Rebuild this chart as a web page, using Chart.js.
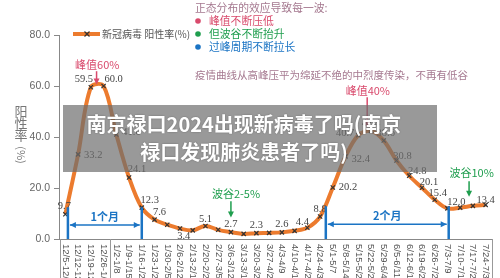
<!DOCTYPE html>
<html>
<head>
<meta charset="utf-8">
<script src="https://cdn.jsdelivr.net/npm/chart.js@4.4.0/dist/chart.umd.min.js"></script>
<style>
  body { margin: 0; background: #fff; }
  #wrap { position: relative; width: 500px; height: 278px; overflow: hidden; }
  #title {
    position: absolute; left: 63px; top: 105px; width: 374px; height: 67px;
    background: rgba(110, 110, 110, 0.7); color: #fff; box-sizing: border-box;
    font: bold 20px "Noto Sans CJK SC", sans-serif; text-align: center;
    line-height: 28px; padding-top: 5px; padding-right: 12px; text-shadow: 0 0 2px rgba(0,0,0,0.3);
  }
</style>
</head>
<body>
<div id="wrap">
  <canvas id="chart" width="500" height="278"></canvas>
  <div id="title">南京禄口2024出现新病毒了吗(南京<br>禄口发现肺炎患者了吗)</div>
</div>
<script>
const weeks = ['12/5-12/11', '12/12-12/18', '12/19-12/25', '12/26-1/1', '1/2-1/8', '1/9-1/15',
  '1/16-1/22', '1/23-1/29', '1/30-2/5', '2/6-2/12', '2/13-2/19', '2/20-2/26', '2/27-3/5',
  '3/6-3/12', '3/13-3/19', '3/20-3/26', '3/27-4/2', '4/3-4/9', '4/10-4/16', '4/17-4/23',
  '4/24-4/30', '5/1-5/7', '5/8-5/14', '5/15-5/21', '5/22-5/28', '5/29-6/4', '6/5-6/11',
  '6/12-6/18', '6/19-6/25', '6/26-7/2', '7/3-7/9', '7/10-7/16', '7/17-7/23', '7/24-7/30'];
const positiveRate = [9.7, 33.2, 59.5, 60.0, 41.0, 24.1, 12.3, 7.6, 5.6, 4.1, 3.4, 5.1, 3.6,
  2.7, 2.0, 2.3, 2.4, 2.6, 3.2, 4.4, 8.8, 20.2, 32.4, 40.7, 42.4, 38.6, 30.8,
  24.8, 20.1, 15.4, 12.0, 12.3, 13.0, 13.4];
const yTicks = [0, 20, 40, 60, 80];
const seriesName = '新冠病毒 阳性率(%)';

// which points carry a value label, and where the text sits (offset from the point)
const labelAt = {
  0: [-1, -8, 'center'], 1: [6, 1, 'left'], 2: [-7, -8, 'center'], 3: [10, -7, 'center'],
  4: [6, -2, 'left'], 5: [8, -8, 'center'], 6: [8, -7, 'center'], 7: [5, -7, 'center'],
  10: [-9, 6, 'center'], 11: [0, -7, 'center'], 13: [0, -8, 'center'], 15: [0, -8, 'center'],
  17: [0, -8, 'center'], 19: [-5, -6, 'center'], 20: [0, -7, 'center'], 21: [6, 0, 'left'],
  22: [6, 3, 'left'], 23: [-4, -2, 'right'], 24: [0, -8, 'center'], 25: [2, -7, 'center'],
  26: [6, -4, 'center'], 27: [8, -5, 'center'], 28: [7, -5, 'center'], 29: [3, -6, 'center'],
  30: [9, -6, 'center'], 33: [0, -5, 'center']
};

const orange = '#ec7b2e';
const red = '#d94a6c';
const green = '#1f9e4e';
const blue = '#1b74c4';
const mauve = '#a5788f';
const cjk = '"Noto Sans CJK SC", sans-serif';

function arrowDown(ctx, px, y1, y2, color) {
  ctx.strokeStyle = color; ctx.fillStyle = color; ctx.lineWidth = 1.5;
  ctx.beginPath(); ctx.moveTo(px, y1); ctx.lineTo(px, y2 - 5); ctx.stroke();
  ctx.beginPath(); ctx.moveTo(px - 3, y2 - 6); ctx.lineTo(px + 3, y2 - 6); ctx.lineTo(px, y2); ctx.closePath(); ctx.fill();
}

function span(ctx, x1, x2, yTop, yBase, yMid, text) {
  ctx.strokeStyle = blue; ctx.fillStyle = blue;
  ctx.lineWidth = 2.5;
  ctx.beginPath();
  ctx.moveTo(x1, yTop); ctx.lineTo(x1, yBase);
  ctx.moveTo(x2, yTop); ctx.lineTo(x2, yBase);
  ctx.stroke();
  ctx.lineWidth = 1.5;
  ctx.beginPath(); ctx.moveTo(x1 + 2, yMid); ctx.lineTo(x2 - 2, yMid); ctx.stroke();
  ctx.beginPath();
  ctx.moveTo(x1 + 2, yMid); ctx.lineTo(x1 + 8, yMid - 3); ctx.lineTo(x1 + 8, yMid + 3); ctx.closePath();
  ctx.moveTo(x2 - 2, yMid); ctx.lineTo(x2 - 8, yMid - 3); ctx.lineTo(x2 - 8, yMid + 3); ctx.closePath();
  ctx.fill();
  ctx.font = 'bold 11px ' + cjk;
  ctx.textAlign = 'center'; ctx.textBaseline = 'middle';
  ctx.fillText(text, (x1 + x2) / 2, yMid - 8);
}

const notes = {
  id: 'notes',
  afterDatasetsDraw(chart) {
    const ctx = chart.ctx;
    const x = chart.scales.x, y = chart.scales.y;
    ctx.save();

    // value labels
    ctx.font = '10.5px "Liberation Serif", serif';
    ctx.fillStyle = '#444';
    ctx.textBaseline = 'middle';
    Object.keys(labelAt).forEach(k => {
      const i = +k;
      const [dx, dy, align] = labelAt[k];
      ctx.textAlign = align;
      ctx.fillText(positiveRate[i].toFixed(1), x.getPixelForValue(i) + dx, y.getPixelForValue(positiveRate[i]) + dy);
    });

    // peaks and troughs
    ctx.font = '11px ' + cjk;
    ctx.textAlign = 'center';
    ctx.fillStyle = red;
    ctx.fillText('峰值60%', x.getPixelForValue(2.5), y.getPixelForValue(68.5));
    arrowDown(ctx, x.getPixelForValue(2.45), y.getPixelForValue(65.8), y.getPixelForValue(60.6), red);
    ctx.fillStyle = red;
    ctx.fillText('峰值40%', x.getPixelForValue(23.75), y.getPixelForValue(58.2));
    arrowDown(ctx, x.getPixelForValue(23.7), y.getPixelForValue(55.6), y.getPixelForValue(43.6), red);
    ctx.fillStyle = green;
    ctx.fillText('波谷2-5%', x.getPixelForValue(13.4), y.getPixelForValue(17.6));
    arrowDown(ctx, x.getPixelForValue(13), y.getPixelForValue(14.8), y.getPixelForValue(8.4), green);
    ctx.fillStyle = green;
    ctx.fillText('波谷10%', x.getPixelForValue(31.9), y.getPixelForValue(25.8));
    arrowDown(ctx, x.getPixelForValue(31.7), y.getPixelForValue(22.6), y.getPixelForValue(16.6), green);

    // time spans
    span(ctx, x.getPixelForValue(0.2), x.getPixelForValue(6), y.getPixelForValue(12.5),
      y.getPixelForValue(0), y.getPixelForValue(5.5), '1个月');
    span(ctx, x.getPixelForValue(20.45), x.getPixelForValue(30.1), y.getPixelForValue(12.8),
      y.getPixelForValue(0), y.getPixelForValue(5.8), '2个月');

    // legend
    ctx.strokeStyle = orange; ctx.lineWidth = 4;
    ctx.beginPath(); ctx.moveTo(73, 34); ctx.lineTo(100, 34); ctx.stroke();
    ctx.strokeStyle = '#333'; ctx.lineWidth = 1.2;
    ctx.beginPath(); ctx.moveTo(84.5, 31.5); ctx.lineTo(89.5, 36.5); ctx.moveTo(89.5, 31.5); ctx.lineTo(84.5, 36.5); ctx.stroke();
    ctx.fillStyle = '#555'; ctx.textAlign = 'left';
    ctx.font = '10px ' + cjk;
    ctx.fillText(seriesName, 102, 34);

    // y axis title
    ctx.fillStyle = '#777';
    ctx.font = '13px ' + cjk;
    ctx.textAlign = 'center';
    ['阳', '性', '率'].forEach((c, i) => ctx.fillText(c, 21, 111 + i * 12));
    ctx.save();
    ctx.translate(21, 155); ctx.rotate(Math.PI / 2);
    ctx.font = '11px ' + cjk;
    ctx.fillText('(%)', 0, 0);
    ctx.restore();

    // note block at top right
    ctx.textAlign = 'left';
    ctx.font = '10.8px ' + cjk;
    ctx.fillStyle = mauve;
    ctx.fillText('正态分布的效应导致每一波:', 195, 8);
    [['峰值不断压低', red], ['但波谷不断抬升', green], ['过峰周期不断拉长', blue]].forEach((r, i) => {
      const ly = 21 + i * 13;
      ctx.fillStyle = r[1];
      ctx.beginPath(); ctx.arc(198, ly, 2.8, 0, Math.PI * 2); ctx.fill();
      ctx.fillText(r[0], 209, ly);
    });
    ctx.fillStyle = mauve;
    ctx.font = '10.5px ' + cjk;
    ctx.fillText('疫情曲线从高峰压平为绵延不绝的中烈度传染，不再有低谷', 195, 75);

    ctx.restore();
  },
  afterDraw(chart) {
    // week labels, read top to bottom, in a box under the axis
    const ctx = chart.ctx;
    const x = chart.scales.x;
    const area = chart.chartArea;
    ctx.save();
    ctx.strokeStyle = '#999'; ctx.lineWidth = 1;
    ctx.beginPath();
    [area.left + 1, x.getPixelForValue(3.5), area.right].forEach(px => {
      ctx.moveTo(Math.round(px) + 0.5, area.bottom); ctx.lineTo(Math.round(px) + 0.5, 278);
    });
    ctx.stroke();
    ctx.font = '9.5px "Liberation Sans", sans-serif';
    ctx.fillStyle = '#555';
    ctx.textAlign = 'left'; ctx.textBaseline = 'middle';
    weeks.forEach((w, i) => {
      ctx.save();
      ctx.translate(x.getPixelForValue(i), area.bottom + 5);
      ctx.rotate(Math.PI / 2);
      ctx.fillText(w, 0, 0);
      ctx.restore();
    });
    ctx.restore();
  }
};

new Chart(document.getElementById('chart'), {
  type: 'line',
  data: {
    labels: weeks,
    datasets: [{
      label: seriesName,
      data: positiveRate,
      borderColor: orange,
      borderWidth: 4,
      tension: 0.35,
      pointStyle: 'crossRot',
      pointRadius: 3,
      pointBorderColor: '#333',
      pointBorderWidth: 1.2,
      fill: false
    }]
  },
  options: {
    responsive: false,
    animation: false,
    layout: { padding: { top: 35, right: 8, left: 0, bottom: 0 } },
    plugins: { legend: { display: false }, tooltip: { enabled: false } },
    scales: {
      x: {
        offset: true,
        ticks: { display: false },
        grid: { display: false },
        border: { display: true, color: '#888' },
        afterFit: s => { s.height = 39; }
      },
      y: {
        min: 0, max: 80,
        afterBuildTicks: s => { s.ticks = yTicks.map(v => ({ value: v })); },
        ticks: {
          color: '#666', padding: 4,
          font: { family: 'Liberation Sans', size: 10.5 },
          callback: v => v.toFixed(1)
        },
        grid: { drawOnChartArea: false, drawTicks: true, tickLength: 5, color: '#888' },
        border: { display: true, color: '#888' },
        afterFit: s => { s.width = 59; }
      }
    }
  },
  plugins: [notes]
});
</script>
</body>
</html>
